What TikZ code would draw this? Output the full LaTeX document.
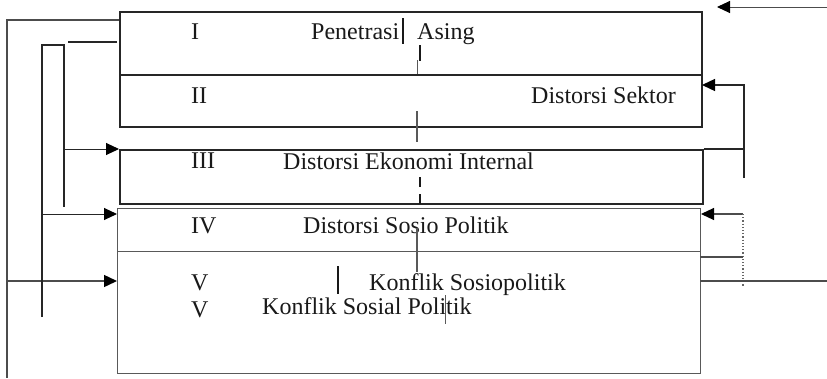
\documentclass[tikz,border=0pt]{standalone}
\usepackage{fontspec}
\setmainfont{Liberation Serif}
\usetikzlibrary{arrows.meta}
\begin{document}
\begin{tikzpicture}[x=1pt,y=-1pt,
 boxline/.style={rectangle, inner sep=0pt, anchor=north west, line width=1.8pt, draw=black!85},
 lightbox/.style={rectangle, inner sep=0pt, anchor=north west, line width=1.4pt, draw=black!65},
 conn/.style={line width=1.4pt, draw=black!85},
 thinline/.style={line width=0.9pt, draw=black!65},
 tick/.style={line width=1.8pt, draw=black!90},
 arr/.style={-{Triangle[length=13pt,width=12pt,color=black]}},
 lbl/.style={anchor=base west, inner sep=0pt, font=\fontsize{24}{28}\selectfont, text=black!90},
 ]
\useasboundingbox (0,0) rectangle (827,378);
% boxes
\node[boxline, minimum width=582pt, minimum height=63pt] (b1) at (119,11) {};
\node[boxline, minimum width=582pt, minimum height=52pt] (b2) at (119,74) {};
\node[boxline, minimum width=583pt, minimum height=54pt] (b3) at (119,149) {};
\node[lightbox, minimum width=583pt, minimum height=43pt] (b4) at (117,208) {};
\node[lightbox, minimum width=583pt, minimum height=122pt] (b5) at (117,251) {};
% labels
\node[lbl] (n1) at (191,39) {I};
\node[lbl] (t1a) at (311,39) {Penetrasi};
\node[lbl] (t1b) at (417,39) {Asing};
\node[lbl] (n2) at (191,103) {II};
\node[lbl] (t2) at (531,103) {Distorsi Sektor};
\node[lbl] (n3) at (191,168) {III};
\node[lbl] (t3) at (283,169) {Distorsi Ekonomi Internal};
\node[lbl] (n4) at (191,233) {IV};
\node[lbl] (t4) at (303,233) {Distorsi Sosio Politik};
\node[lbl] (n5a) at (191,290) {V};
\node[lbl] (n5b) at (191,317) {V};
\node[lbl] (t5a) at (369,290) {Konflik Sosiopolitik};
\node[lbl] (t5b) at (262,314) {Konflik Sosial Politik};
% small vertical marks
\coordinate (m1a) at (403,18); \coordinate (m1b) at (403,44);
\draw[tick] (m1a) -- (m1b);
\coordinate (m2a) at (420,45); \coordinate (m2b) at (420,61);
\draw[tick] (m2a) -- (m2b);
\coordinate (m3a) at (417,60); \coordinate (m3b) at (417,74);
\draw[thinline] (m3a) -- (m3b);
\coordinate (m4a) at (417,111); \coordinate (m4b) at (417,142);
\draw[thinline, line width=1.1pt] (m4a) -- (m4b);
\coordinate (m5a) at (420,177); \coordinate (m5b) at (420,206);
\draw[tick, dash pattern=on 10pt off 7pt] (m5a) -- (m5b);
\coordinate (m6a) at (417,228); \coordinate (m6b) at (417,272);
\draw[thinline, line width=1.1pt] (m6a) -- (m6b);
\coordinate (m7a) at (338,266); \coordinate (m7b) at (338,294);
\draw[tick] (m7a) -- (m7b);
\coordinate (m8a) at (445,295); \coordinate (m8b) at (445,324);
\draw[thinline] (m8a) -- (m8b);
% left connectors
\coordinate (aI) at (119,20); \coordinate (k1) at (7,20); \coordinate (k1e) at (7,378);
\draw[conn, draw=black!70] (aI) -- (k1) -- (k1e);
\coordinate (k1v) at (7,281); \coordinate (aV) at (117,281);
\draw[conn, draw=black!70, arr] (k1v) -- (aV);
\coordinate (aI2) at (117,42); \coordinate (s1) at (68,42);
\draw[conn, line width=1.7pt] (aI2) -- (s1);
\coordinate (k2top) at (42,45); \coordinate (k3top) at (64,45);
\coordinate (k2e) at (42,317); \coordinate (k3e) at (64,207);
\draw[conn, line width=1.6pt] (k2e) -- (k2top) -- (k3top) -- (k3e);
\coordinate (k3a) at (64,149);
\draw[conn, line width=1pt, arr] (k3a) -- (b3.north west);
\coordinate (k2a) at (42,214); \coordinate (aIV) at (117,214);
\draw[conn, line width=1pt, arr] (k2a) -- (aIV);
% right connectors
\coordinate (r0) at (827,7); \coordinate (r0t) at (717,7);
\draw[conn, line width=1pt, draw=black!70, arr] (r0) -- (r0t);
\coordinate (b2r) at (702,85); \coordinate (r1) at (744,85);
\coordinate (r1e) at (744,178); \coordinate (r1m) at (744,149);
\draw[conn, arr] (r1e) -- (r1) -- (b2r);
\draw[conn] (b3.north east) -- (r1m);
\coordinate (b4r) at (701,214); \coordinate (r2) at (743,214);
\coordinate (r2e) at (743,286); \coordinate (r2m) at (743,257);
\coordinate (b5r) at (700,257); \coordinate (b5r2) at (700,281); \coordinate (r3) at (827,281);
\draw[conn, line width=1.1pt, draw=black!70, arr] (r2) -- (b4r);
\draw[line width=1.2pt, draw=black!60, dotted] (r2) -- (r2e);
\draw[conn, line width=1.1pt, draw=black!70] (b5r) -- (r2m);
\draw[conn, line width=1.1pt, draw=black!70] (b5r2) -- (r3);
\end{tikzpicture}
\end{document}
